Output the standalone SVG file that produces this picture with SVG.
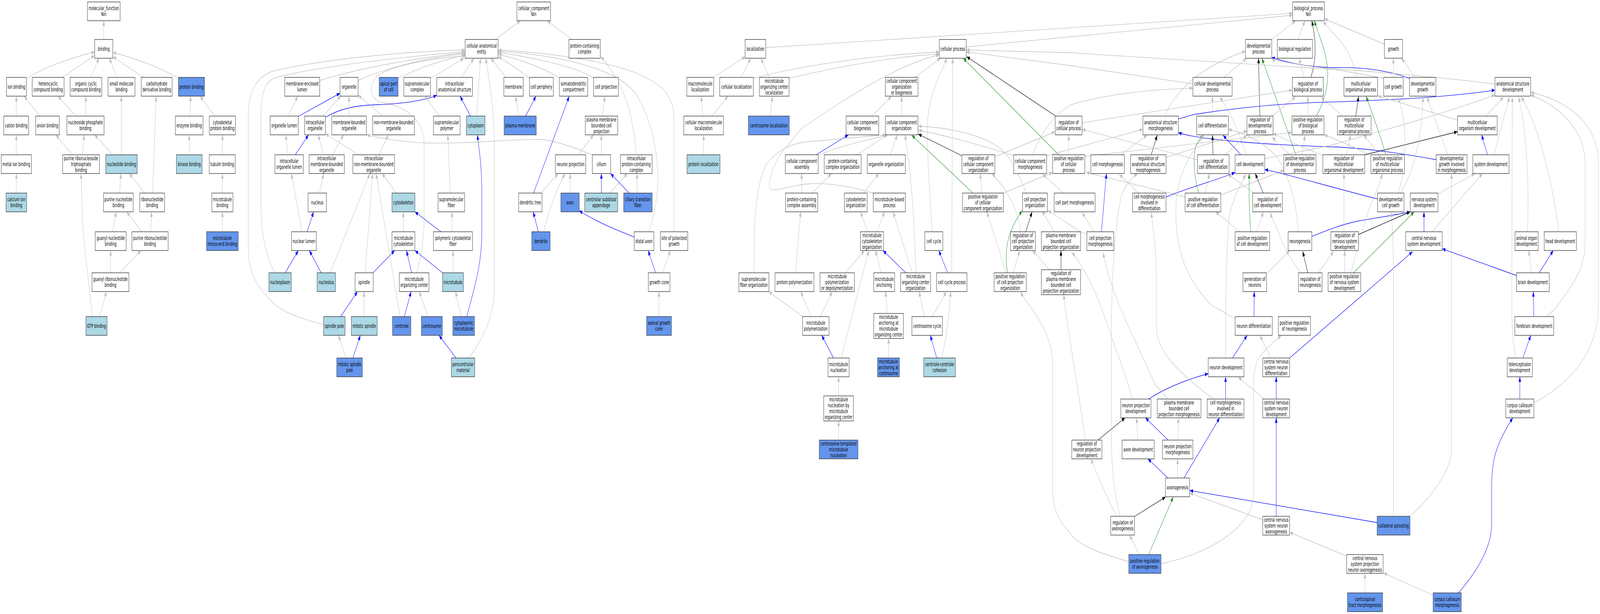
<svg xmlns="http://www.w3.org/2000/svg" width="6367" height="1571" viewBox="0 0 6367 1571" preserveAspectRatio="none">
<defs>
<style>
svg{width:100vw;height:100vh}
.nd rect{stroke:#2a2a2a;stroke-width:1.3}
.w{fill:#ffffff}.lb{fill:#add8e6}.cb{fill:#6495ed}
text{font-family:"DejaVu Sans Condensed","DejaVu Sans",sans-serif;font-stretch:condensed;font-size:14px;text-anchor:middle;fill:#000}
#edges path{fill:none;stroke-width:1.3}
#edges .g{stroke:#c0c0c0;marker-end:url(#ag)}
#edges .b{stroke:#0000ff;marker-end:url(#ab)}
#edges .gr{stroke:#228b22;marker-end:url(#agr)}
#edges .k{stroke:#000000;marker-end:url(#ak)}
</style>
<marker id="ag" markerWidth="14" markerHeight="10" refX="13" refY="5" orient="auto" markerUnits="userSpaceOnUse"><path d="M0,0 L13,5 L0,10 z" fill="#c0c0c0"/></marker>
<marker id="ab" markerWidth="14" markerHeight="10" refX="13" refY="5" orient="auto" markerUnits="userSpaceOnUse"><path d="M0,0 L13,5 L0,10 z" fill="#0000ff"/></marker>
<marker id="agr" markerWidth="14" markerHeight="10" refX="13" refY="5" orient="auto" markerUnits="userSpaceOnUse"><path d="M0,0 L13,5 L0,10 z" fill="#228b22"/></marker>
<marker id="ak" markerWidth="14" markerHeight="10" refX="13" refY="5" orient="auto" markerUnits="userSpaceOnUse"><path d="M0,0 L13,5 L0,10 z" fill="#000000"/></marker>
</defs>
<rect width="6367" height="1571" fill="#ffffff"/>
<g id="edges">
<path class="g" d="M413,101 L413,53"/>
<path class="g" d="M104.5,201 C180,170 300,145 377,133"/>
<path class="g" d="M246,198.5 L377,142"/>
<path class="g" d="M360,198.5 L394,149"/>
<path class="g" d="M466,198.5 L435,149"/>
<path class="g" d="M572,198.5 L449,145"/>
<path class="g" d="M710,201.5 C650,175 540,150 449,134"/>
<path class="g" d="M65,297 L65,246"/>
<path class="g" d="M158,297 L96,246"/>
<path class="g" d="M303,297 L231,246"/>
<path class="g" d="M341,297 L341.6,246"/>
<path class="g" d="M65,396 L65,345"/>
<path class="g" d="M288,396 L222,345"/>
<path class="g" d="M328,396 L335,345"/>
<path class="g" d="M449,396 L376,345"/>
<path class="g" d="M483,396 L483,246"/>
<path class="g" d="M65,494 L65,444"/>
<path class="g" d="M476,494 L481,444"/>
<path class="g" d="M575,494 L515,444"/>
<path class="g" d="M607.5,494 C612,400 618,320 621.5,246"/>
<path class="g" d="M448,593 L463,542"/>
<path class="g" d="M565,593 L504,542"/>
<path class="g" d="M600,593 L603,542"/>
<path class="g" d="M440,698 L440,641"/>
<path class="g" d="M476,698 L561,641"/>
<path class="g" d="M396,810 L424,746"/>
<path class="g" d="M368,810 C360,760 335,640 328,560 C325,500 323,470 323,444"/>
<path class="g" d="M755.5,297 L759,246"/>
<path class="g" d="M854.5,297 L796,246"/>
<path class="g" d="M753,396 L753,345"/>
<path class="g" d="M885,396 L885,345"/>
<path class="g" d="M885,494 L885,444"/>
<path class="g" d="M885,593 L885,542"/>
<path class="g" d="M1970,101 L2071,53"/>
<path class="g" d="M2276,101 L2177,53"/>
<path class="g" d="M1272,206 C1450,170 1700,145 1851,135"/>
<path class="g" d="M1425,205.5 C1550,170 1720,145 1851,138"/>
<path class="g" d="M1584,200.5 C1680,170 1780,150 1851,141"/>
<path class="g" d="M1713.7,200.5 L1846,149"/>
<path class="g" d="M1836,198 L1886,149"/>
<path class="g" d="M1896.5,297 L1912,149"/>
<path class="g" d="M2013,198 L1953.7,149"/>
<path class="g" d="M2107,201.5 C2060,175 2020,160 1982.6,145"/>
<path class="g" d="M2226,199 C2150,170 2060,150 1982.6,139"/>
<path class="g" d="M2362,200.5 C2300,170 2100,145 1982.6,134"/>
<path class="g" d="M2582,593 C2600,560 2620,500 2618,450 C2615,380 2590,300 2530,240 C2450,170 2200,140 1982.6,131"/>
<path class="g" d="M2681.7,593 L2681.7,300 C2681.7,250 2640,220 2560,195 C2450,160 2200,135 1982.6,128"/>
<path class="g" d="M1658,698 C1680,650 1688,600 1688,550 L1688,370 C1688,300 1600,270 1520,262 C1470,255 1460,215 1510,190 C1600,160 1750,148 1851,143"/>
<path class="g" d="M1866,916 C1930,860 1967,800 1967,740 L1967,360 C1967,280 1945,200 1933,149"/>
<path class="g" d="M1094,698 C1060,660 1038,600 1038,520 L1038,300 C1038,230 1060,205 1100,198 C1300,165 1700,140 1851,132"/>
<path class="g" d="M1288,831 C1200,815 1120,800 1080,770 C1000,720 988,680 988,630 L988,290 C988,240 1020,190 1100,180 C1300,150 1650,130 1851,128"/>
<path class="g" d="M1286,297 L1355.4,246"/>
<path class="b" d="M1295,300 C1350,280 1400,270 1500,268 C1620,265 1700,255 1738,243.6"/>
<path class="b" d="M1186.7,298 L1353,238.6"/>
<path class="g" d="M1148,297 L1184.7,246"/>
<path class="g" d="M1389,297 L1389,246"/>
<path class="g" d="M1523.5,297 L1425,243.6"/>
<path class="g" d="M1748.6,297 L1691.5,246"/>
<path class="b" d="M1872,297 L1831,246"/>
<path class="g" d="M2063,297 L2052,246"/>
<path class="b" d="M2091.5,297 L2133,246"/>
<path class="g" d="M1145,396 L1137,345"/>
<path class="b" d="M1175,396 L1227.7,345"/>
<path class="g" d="M1287.5,396 L1266,345"/>
<path class="g" d="M1322.5,396 L1367.5,345"/>
<path class="g" d="M1427,396 L1295,342"/>
<path class="g" d="M1508,396 L1545.6,345"/>
<path class="g" d="M2357,397 C2300,380 2200,358 2154,357 C2000,356 1900,368 1705,366 C1600,364 1500,352 1458,345"/>
<path class="g" d="M1271,494 L1288,444"/>
<path class="g" d="M1577,494 L1520,444"/>
<path class="g" d="M1792,494 L1782,345"/>
<path class="b" d="M2123,494 L2265,246.6"/>
<path class="g" d="M2157,491 L2221,444"/>
<path class="b" d="M1222,593 L1248,542"/>
<path class="g" d="M1202,593 L1159,444"/>
<path class="g" d="M1605,593 L1605,542"/>
<path class="b" d="M1755,593 L1651,542"/>
<path class="g" d="M1800,593 L1798,542"/>
<path class="b" d="M2142,593 L2122,542"/>
<path class="g" d="M2164,593 C2180,540 2220,480 2248,444"/>
<path class="b" d="M1135,698 L1187,641"/>
<path class="b" d="M1278,698 L1231,641"/>
<path class="g" d="M1314,698 L1472,444"/>
<path class="g" d="M1453,698 L1483,444"/>
<path class="b" d="M1484.5,698 L1570.5,641"/>
<path class="b" d="M1638,698 L1617.6,641"/>
<path class="b" d="M1761,698 L1651,641"/>
<path class="g" d="M1803,698 L1803,641"/>
<path class="g" d="M1592,810 L1496.6,444"/>
<path class="b" d="M1609,810 L1636,746"/>
<path class="g" d="M1703.6,810 L1668,746"/>
<path class="g" d="M1836,810 L1812.5,746"/>
<path class="b" d="M1858,810 C1885,740 1917,680 1917,600 L1917,480 C1917,420 1905,380 1900,345"/>
<path class="b" d="M1355.4,810 L1422.6,746"/>
<path class="g" d="M1449,810 L1449,746"/>
<path class="g" d="M1377,916 L1346.7,858"/>
<path class="b" d="M1404,916 L1434,858"/>
<path class="b" d="M1814.5,916 L1747,858"/>
<path class="g" d="M2398,297 L2406.7,246"/>
<path class="g" d="M2300.5,396 L2362,345"/>
<path class="g" d="M2393,396 L2393,345"/>
<path class="g" d="M2532,396 C2520,300 2490,215 2390.6,145"/>
<path class="g" d="M2269,494 L2269,444"/>
<path class="b" d="M2393,494 L2393,444"/>
<path class="g" d="M2426,494 L2497,444"/>
<path class="b" d="M2503.5,494 L2429.6,444"/>
<path class="g" d="M2536,494 L2534.5,444"/>
<path class="b" d="M2524,606.5 C2460,590 2380,570 2304.6,539"/>
<path class="b" d="M2609,698 L2579,641"/>
<path class="g" d="M2636.6,698 L2668,641"/>
<path class="g" d="M2622,810 L2622,746"/>
<path class="g" d="M3046.6,122 L5144,34"/>
<path class="g" d="M3845,120 L5144,39"/>
<path class="g" d="M2839.6,198 L2965,145"/>
<path class="g" d="M2949,198 L2987.5,149"/>
<path class="g" d="M3061.4,198 L3028,149"/>
<path class="g" d="M2997.6,200.5 C3200,165 3500,140 3737.7,133"/>
<path class="g" d="M3140,200.5 C3300,175 3550,145 3737.7,138"/>
<path class="g" d="M2797,297 L2790,246"/>
<path class="g" d="M2833,297 L2897,246"/>
<path class="g" d="M3065,297 L3073.6,246"/>
<path class="g" d="M2800,396 L2800,345"/>
<path class="g" d="M3640,198 L3742,149"/>
<path class="g" d="M3710,593 C3700,500 3690,400 3690,330 C3690,250 3740,190 3769,149"/>
<path class="g" d="M3787,698 L3791,149"/>
<path class="k" d="M4201,297 L3846.6,145"/>
<path class="gr" d="M4213,396 L3833,149"/>
<path class="g" d="M3470,297 L3547.5,246.6"/>
<path class="g" d="M3588,297 L3588,246.6"/>
<path class="b" d="M3248,396 L3376,345"/>
<path class="g" d="M3255.7,398 C3350,370 3450,360 3530.6,345"/>
<path class="g" d="M3001,698 C3000,600 3000,480 3050,420 C3100,380 3150,368 3208,363 C3350,355 3450,350 3524,345"/>
<path class="g" d="M3475,494 C3400,480 3300,465 3208,471 C3140,476 3070,495 3062,480 C3055,460 3090,400 3130,375 C3160,355 3180,330 3208,321 C3350,260 3550,170 3737.7,140"/>
<path class="g" d="M3409.6,396 L3532,345"/>
<path class="g" d="M3542,396 L3571,345"/>
<path class="g" d="M3645,698 C3640,600 3630,450 3601,345"/>
<path class="k" d="M3828,398.5 L3654,343"/>
<path class="gr" d="M3872,494 L3628,346"/>
<path class="g" d="M4034,398.5 C3900,370 3750,345 3654.6,333"/>
<path class="g" d="M4085,494 C4050,440 4020,400 3980,380 C3900,340 3750,325 3654.6,323"/>
<path class="g" d="M3959.5,401 L4199,337"/>
<path class="g" d="M3907,494 L3900,444"/>
<path class="g" d="M3993,494 L4189,441"/>
<path class="g" d="M4004.5,698 L3927,542"/>
<path class="gr" d="M4009,698 C3995,640 4010,590 4068,539"/>
<path class="g" d="M4031,698 L4058,641"/>
<path class="k" d="M4082,593 L4107,542"/>
<path class="g" d="M4061.6,593 C4050,530 4000,480 3947,444"/>
<path class="g" d="M4196,593 L4146,539"/>
<path class="k" d="M4222,690 L4222,641"/>
<path class="g" d="M4176,690 L4109,641"/>
<path class="g" d="M3231.5,494 L3309,444"/>
<path class="g" d="M3190,494 L3190,444"/>
<path class="g" d="M3436.5,494 L3497,444"/>
<path class="g" d="M3453,593 L3424.4,542"/>
<path class="g" d="M3489,593 L3520.6,542"/>
<path class="g" d="M3630,698 L3554,542"/>
<path class="b" d="M3604.6,698 L3514,641"/>
<path class="g" d="M3507,698 L3483.6,641"/>
<path class="g" d="M3364.6,698 L3440,641"/>
<path class="g" d="M3165.6,698 L3186,542"/>
<path class="g" d="M3347,916 L3457,641"/>
<path class="g" d="M3265,810 L3312,746"/>
<path class="g" d="M3228,810 L3186,746"/>
<path class="g" d="M3194.6,810 L3059,746"/>
<path class="b" d="M3317,916 L3270,858"/>
<path class="g" d="M3337,1013 L3337,964"/>
<path class="g" d="M3337,1126 L3337,1077"/>
<path class="g" d="M3530.6,802 L3524,746"/>
<path class="g" d="M3536,916 L3536,866"/>
<path class="g" d="M3678.5,810 L3657,746"/>
<path class="g" d="M3710,810 L3766,746"/>
<path class="b" d="M3727.6,916 L3702,858"/>
<path class="g" d="M3747,916 C3765,870 3775,820 3783,746"/>
<path class="b" d="M3771,698 L3736,641"/>
<path class="g" d="M4492,1437 C4400,1420 4300,1400 4262,1367 C4210,1330 4189,1300 4189,1256 L4189,936 C4189,870 4140,820 4102,786 C4085,770 4070,760 4061.6,746"/>
<path class="g" d="M4319,1126 C4300,1040 4275,940 4262,886 C4250,840 4240,800 4233,753"/>
<path class="g" d="M5060.5,101 L5156,53"/>
<path class="g" d="M5166,101 L5193,53"/>
<path class="k" d="M5216.5,198 C5240,150 5237,100 5220,53"/>
<path class="gr" d="M5238,297 C5280,250 5290,200 5280,160 C5270,120 5245,85 5230,53"/>
<path class="g" d="M5509,113 L5270,48"/>
<path class="g" d="M5400,198 C5385,160 5365,130 5340,110 C5310,88 5285,70 5265,55"/>
<path class="g" d="M4870,198 L4961,149"/>
<path class="g" d="M4635,297 C4680,230 4780,170 4956,131"/>
<path class="k" d="M5013.5,297 L5008,149"/>
<path class="gr" d="M5157,396 L5021.6,149"/>
<path class="b" d="M5609,200.5 C5500,175 5400,172 5316,173 C5200,172 5120,160 5060.5,147"/>
<path class="g" d="M5949,215 C5700,195 5400,180 5316,177 C5200,170 5120,160 5060.5,152"/>
<path class="g" d="M5506,200 L5316,178 L4262,135 L3845,128"/>
<path class="g" d="M4747,214.5 L4262,168 L3845,133"/>
<path class="g" d="M5189.6,198 L5169.5,149"/>
<path class="g" d="M4825,297 L4825,246.6"/>
<path class="g" d="M4961,396 C4930,340 4900,290 4853.5,248"/>
<path class="g" d="M5062,297 L5156,248"/>
<path class="g" d="M5204.4,297 L5204.4,246.6"/>
<path class="g" d="M4306,314 L5142.6,230.6"/>
<path class="g" d="M5343,297 L5256,248"/>
<path class="b" d="M4688.8,304 C4720,300 4730,295 4760,292 C5000,268 5200,262 5316,260.6 C5600,255 5800,245 5949,230.6"/>
<path class="b" d="M5715,408.5 C5600,395 5450,380 5316,376 C5000,370 4750,355 4688.8,339"/>
<path class="g" d="M4165,398.5 L4547.7,331"/>
<path class="k" d="M4581,396 L4605,346"/>
<path class="g" d="M4460,396 L4564.5,346"/>
<path class="g" d="M4639.8,403 L4962.4,335"/>
<path class="g" d="M4109,396 C4150,330 4200,290 4262,268 C4400,240 4600,228 4747,225.6"/>
<path class="k" d="M4827,396 L4825,346"/>
<path class="g" d="M4873.7,396 L4961,346"/>
<path class="g" d="M4765,409 L4306,331"/>
<path class="b" d="M4937.5,396 L4867,346"/>
<path class="g" d="M5033,406 C5150,390 5250,380 5316,368 C5500,335 5750,290 5949,243"/>
<path class="g" d="M5132,396 L5062,351"/>
<path class="g" d="M5181.6,396 L5193,346"/>
<path class="g" d="M4796,494 L4813,444"/>
<path class="gr" d="M4769.5,494 C4750,450 4747,400 4760,370 C4770,360 4780,352 4789.6,346"/>
<path class="g" d="M4857.5,499 L5109,436"/>
<path class="g" d="M4716,504 L4322.5,441"/>
<path class="k" d="M5027,494 L4995,444"/>
<path class="g" d="M4991,494 L4887,446"/>
<path class="g" d="M5000,593 L5028,542"/>
<path class="gr" d="M4978,593 C4970,540 4970,490 4971,444"/>
<path class="g" d="M4934,593 L4837,542"/>
<path class="g" d="M5166,593 C5160,530 5140,460 5080,400 C5020,360 4950,340 4888,331"/>
<path class="b" d="M5220,605 C5280,590 5320,578 5400,566 C5500,555 5570,548 5612,542"/>
<path class="g" d="M5045,698 L5132.5,641"/>
<path class="k" d="M5204,698 L5184,643"/>
<path class="g" d="M5177.5,698 C5130,660 5100,620 5085,590 C5070,570 5060,556 5055,544"/>
<path class="g" d="M5247,698 L5307,643"/>
<path class="b" d="M4383,593 L4403,444"/>
<path class="g" d="M4353,593 L4306,544"/>
<path class="g" d="M4325,600 C4280,590 4230,560 4169,539"/>
<path class="g" d="M4531,494 L4453.6,446"/>
<path class="b" d="M4640,504 C4750,475 4850,460 4915,441"/>
<path class="g" d="M4233,494 L4149,446"/>
<path class="g" d="M4253,396 L4253,346"/>
<path class="g" d="M4317,400 C4600,380 4900,355 5141,339"/>
<path class="b" d="M4990,810 L4991,746"/>
<path class="g" d="M4915,817 C4880,800 4840,790 4820,780 C4700,700 4679,620 4679,540 C4679,450 4740,390 4790,346"/>
<path class="b" d="M4904,916 L4963,858"/>
<path class="g" d="M4877,916 L4877,786 C4880,700 4885,600 4890,560 C4900,520 4930,480 4958,446"/>
<path class="g" d="M5057,916 L5013.5,858"/>
<path class="b" d="M5132,916 C5250,850 5450,740 5621,644"/>
<path class="b" d="M4571,1021 C4620,1000 4700,975 4808,956"/>
<path class="g" d="M4507,1021 C4470,940 4420,860 4383,786 C4340,720 4300,670 4265,646"/>
<path class="g" d="M4648.5,1021 C4620,1000 4600,990 4591,976 C4540,900 4490,840 4457,786 C4430,740 4400,690 4390,646"/>
<path class="b" d="M4877,1021 L4877,964"/>
<path class="g" d="M4830,1021 C4700,960 4601,900 4601,836 L4601,700 C4601,640 4590,590 4581,544"/>
<path class="g" d="M5031.6,1021 L4927.5,965"/>
<path class="b" d="M5078.5,1021 L5078.5,964"/>
<path class="k" d="M4369.5,1126 L4477,1069"/>
<path class="g" d="M4527.5,1126 L4523,1069"/>
<path class="b" d="M4648.5,1126 L4558,1069"/>
<path class="g" d="M4687.5,1126 L4689.5,1069"/>
<path class="b" d="M4648.5,1223.5 L4568,1174"/>
<path class="g" d="M4686,1223.5 L4686,1174"/>
<path class="b" d="M4711,1223.5 L4853.5,1069"/>
<path class="k" d="M4516,1321 L4638.4,1271.6"/>
<path class="g" d="M4443.5,1321 C4410,1280 4370,1220 4341,1174"/>
<path class="g" d="M4457,1321 C4430,1250 4423,1180 4423,1130 L4423,840 C4423,700 4440,560 4463,500 C4480,470 4505,455 4527.5,444"/>
<path class="g" d="M4534,1419 L4494,1369"/>
<path class="gr" d="M4571,1419 L4668.7,1271.6"/>
<path class="g" d="M4620,1442 C4800,1420 4988,1350 4988,1267 L4988,986 C4988,950 5000,920 5015,911 C5040,890 5070,875 5099,858"/>
<path class="g" d="M5025,1330 L4734.5,1261.6"/>
<path class="b" d="M5078.5,1321 L5078.5,1069"/>
<path class="b" d="M5480,1337 L4734.5,1255"/>
<path class="g" d="M5545,1321 L5545,700 C5545,620 5540,580 5537,542"/>
<path class="g" d="M5611,1321 C5700,1270 5776,1200 5776,1151 L5776,444"/>
<path class="g" d="M5359,1423 L5132,1362"/>
<path class="g" d="M5431.5,1517 L5431.5,1467"/>
<path class="g" d="M5703.4,1523 L5505.7,1466"/>
<path class="b" d="M5804,1517 C5880,1460 5936,1400 5936,1340 L5936,1240 C5936,1170 5960,1130 6020,1069"/>
<path class="g" d="M5545,198 L5545,149"/>
<path class="g" d="M5631,198 L5577,149"/>
<path class="k" d="M5395,297 L5406.5,246.6"/>
<path class="gr" d="M5514,396 C5490,340 5460,290 5436.6,246.6"/>
<path class="g" d="M5489,396 L5426.6,345"/>
<path class="g" d="M5455.4,398 C5400,380 5330,360 5269,345"/>
<path class="g" d="M5356,396 L5376,345"/>
<path class="k" d="M5431,396 L5800,337"/>
<path class="g" d="M5264,398 C5200,380 5120,360 5066,341"/>
<path class="g" d="M5800,307 L5483.6,245.6"/>
<path class="g" d="M5912.6,297 L5983,248"/>
<path class="g" d="M5762,396 L5678,248"/>
<path class="b" d="M5919,396 L5896,345"/>
<path class="g" d="M5946,396 C5970,330 5990,290 6006,248"/>
<path class="g" d="M5564,494 C5600,420 5600,320 5564,248"/>
<path class="g" d="M5574,494 C5640,420 5660,330 5662.5,248"/>
<path class="b" d="M5482,509 C5300,480 5150,450 5033,433.6"/>
<path class="g" d="M5722,496 L5869,444"/>
<path class="b" d="M5666.5,593 L5666.5,542"/>
<path class="g" d="M5699,593 L5899,444"/>
<path class="k" d="M5406,600 L5612,542"/>
<path class="g" d="M5348,593 L5348,444"/>
<path class="gr" d="M5386,698 L5627.7,542"/>
<path class="g" d="M5351,698 L5351,641"/>
<path class="g" d="M5375,698 C5410,620 5440,540 5470,500 C5485,480 5495,460 5500,444"/>
<path class="g" d="M6078,593 C6085,500 6080,350 6043,248"/>
<path class="g" d="M6204,593 C6180,480 6130,330 6053,248"/>
<path class="b" d="M6035,705 L5739,636.6"/>
<path class="b" d="M6125,698 L6181,641"/>
<path class="g" d="M6093.5,698 L6083.5,641"/>
<path class="b" d="M6103.6,810 L6101.6,746"/>
<path class="g" d="M6154,810 C6170,800 6190,790 6200,780 C6270,720 6308,680 6308,620 L6308,420 C6308,330 6200,270 6091,243"/>
<path class="b" d="M6060,916 L6091.5,858"/>
<path class="g" d="M6033,916 C6020,880 6016,840 6016,780 L6018,248"/>
<path class="b" d="M6048,1021 L6048,964"/>
<path class="g" d="M6104,1031 C6250,980 6361,900 6361,780 L6361,420 C6361,320 6250,260 6091,236"/>
</g>
<g id="n_mf" class="nd"><rect class="w" x="348" y="5" width="130" height="48"/><text x="413" y="26.5"><tspan x="413">molecular_function</tspan><tspan x="413" dy="15">Nin</tspan></text></g>
<g id="n_binding" class="nd"><rect class="w" x="377" y="101" width="72" height="48"/><text x="413" y="130">binding</text></g>
<g id="n_ionb" class="nd"><rect class="w" x="26" y="198" width="79" height="48"/><text x="65.5" y="227">ion binding</text></g>
<g id="n_hetb" class="nd"><rect class="w" x="128" y="198" width="127" height="48"/><text x="191.5" y="219.5"><tspan x="191.5">heterocyclic</tspan><tspan x="191.5" dy="15">compound binding</tspan></text></g>
<g id="n_orgcb" class="nd"><rect class="w" x="279" y="198" width="126" height="48"/><text x="342" y="219.5"><tspan x="342">organic cyclic</tspan><tspan x="342" dy="15">compound binding</tspan></text></g>
<g id="n_smb" class="nd"><rect class="w" x="430" y="198" width="107" height="48"/><text x="483.5" y="219.5"><tspan x="483.5">small molecule</tspan><tspan x="483.5" dy="15">binding</tspan></text></g>
<g id="n_carb" class="nd"><rect class="w" x="562" y="198" width="123" height="48"/><text x="623.5" y="219.5"><tspan x="623.5">carbohydrate</tspan><tspan x="623.5" dy="15">derivative binding</tspan></text></g>
<g id="n_protb" class="nd"><rect class="cb" x="710" y="198" width="104" height="48"/><text x="762" y="227">protein binding</text></g>
<g id="n_catb" class="nd"><rect class="w" x="15" y="297" width="99" height="48"/><text x="64.5" y="326">cation binding</text></g>
<g id="n_anb" class="nd"><rect class="w" x="142" y="297" width="94" height="48"/><text x="189" y="326">anion binding</text></g>
<g id="n_nspb" class="nd"><rect class="w" x="266" y="297" width="148" height="48"/><text x="340" y="318.5"><tspan x="340">nucleoside phosphate</tspan><tspan x="340" dy="15">binding</tspan></text></g>
<g id="n_enzb" class="nd"><rect class="w" x="698" y="297" width="110" height="48"/><text x="753" y="326">enzyme binding</text></g>
<g id="n_cytpb" class="nd"><rect class="w" x="833" y="297" width="104" height="48"/><text x="885" y="318.5"><tspan x="885">cytoskeletal</tspan><tspan x="885" dy="15">protein binding</tspan></text></g>
<g id="n_metb" class="nd"><rect class="w" x="5" y="396" width="120" height="48"/><text x="65" y="425">metal ion binding</text></g>
<g id="n_prtb" class="nd"><rect class="w" x="249" y="396" width="147" height="48"/><text x="322.5" y="410"><tspan x="322.5">purine ribonucleoside</tspan><tspan x="322.5" dy="15">triphosphate</tspan><tspan x="322.5" dy="15">binding</tspan></text></g>
<g id="n_nucb" class="nd"><rect class="lb" x="421" y="396" width="125" height="48"/><text x="483.5" y="425">nucleotide binding</text></g>
<g id="n_kinb" class="nd"><rect class="lb" x="702" y="396" width="102" height="48"/><text x="753" y="425">kinase binding</text></g>
<g id="n_tubb" class="nd"><rect class="w" x="833" y="396" width="103" height="48"/><text x="884.5" y="425">tubulin binding</text></g>
<g id="n_cab" class="nd"><rect class="lb" x="24" y="494" width="82" height="48"/><text x="65" y="515.5"><tspan x="65">calcium ion</tspan><tspan x="65" dy="15">binding</tspan></text></g>
<g id="n_pnb" class="nd"><rect class="w" x="412" y="494" width="118" height="48"/><text x="471" y="515.5"><tspan x="471">purine nucleotide</tspan><tspan x="471" dy="15">binding</tspan></text></g>
<g id="n_rnb" class="nd"><rect class="w" x="556" y="494" width="99" height="48"/><text x="605.5" y="515.5"><tspan x="605.5">ribonucleotide</tspan><tspan x="605.5" dy="15">binding</tspan></text></g>
<g id="n_mtb" class="nd"><rect class="w" x="843" y="494" width="84" height="48"/><text x="885" y="515.5"><tspan x="885">microtubule</tspan><tspan x="885" dy="15">binding</tspan></text></g>
<g id="n_gnb" class="nd"><rect class="w" x="379" y="593" width="123" height="48"/><text x="440.5" y="614.5"><tspan x="440.5">guanyl nucleotide</tspan><tspan x="440.5" dy="15">binding</tspan></text></g>
<g id="n_prnb" class="nd"><rect class="w" x="525" y="593" width="144" height="48"/><text x="597" y="614.5"><tspan x="597">purine ribonucleotide</tspan><tspan x="597" dy="15">binding</tspan></text></g>
<g id="n_mtmeb" class="nd"><rect class="cb" x="822" y="593" width="126" height="48"/><text x="885" y="614.5"><tspan x="885">microtubule</tspan><tspan x="885" dy="15">minus-end binding</tspan></text></g>
<g id="n_grnb" class="nd"><rect class="w" x="366" y="698" width="147" height="48"/><text x="439.5" y="719.5"><tspan x="439.5">guanyl ribonucleotide</tspan><tspan x="439.5" dy="15">binding</tspan></text></g>
<g id="n_gtpb" class="nd"><rect class="lb" x="342" y="810" width="84" height="48"/><text x="384" y="839">GTP binding</text></g>
<g id="n_cc" class="nd"><rect class="w" x="2057" y="5" width="134" height="48"/><text x="2124" y="26.5"><tspan x="2124">cellular_component</tspan><tspan x="2124" dy="15">Nin</tspan></text></g>
<g id="n_cae" class="nd"><rect class="w" x="1851" y="101" width="131" height="48"/><text x="1916.5" y="122.5"><tspan x="1916.5">cellular anatomical</tspan><tspan x="1916.5" dy="15">entity</tspan></text></g>
<g id="n_pcc" class="nd"><rect class="w" x="2264" y="101" width="125" height="48"/><text x="2326.5" y="122.5"><tspan x="2326.5">protein-containing</tspan><tspan x="2326.5" dy="15">complex</tspan></text></g>
<g id="n_mel" class="nd"><rect class="w" x="1133" y="198" width="139" height="48"/><text x="1202.5" y="219.5"><tspan x="1202.5">membrane-enclosed</tspan><tspan x="1202.5" dy="15">lumen</tspan></text></g>
<g id="n_org" class="nd"><rect class="w" x="1353" y="198" width="72" height="48"/><text x="1389" y="227">organelle</text></g>
<g id="n_apc" class="nd"><rect class="cb" x="1509" y="198" width="75" height="48"/><text x="1546.5" y="219.5"><tspan x="1546.5">apical part</tspan><tspan x="1546.5" dy="15">of cell</tspan></text></g>
<g id="n_smc" class="nd"><rect class="w" x="1607" y="198" width="106" height="48"/><text x="1660" y="219.5"><tspan x="1660">supramolecular</tspan><tspan x="1660" dy="15">complex</tspan></text></g>
<g id="n_ias" class="nd"><rect class="w" x="1738" y="198" width="142" height="48"/><text x="1809" y="219.5"><tspan x="1809">intracellular</tspan><tspan x="1809" dy="15">anatomical structure</tspan></text></g>
<g id="n_mem" class="nd"><rect class="w" x="2005" y="198" width="77" height="48"/><text x="2043.5" y="227">membrane</text></g>
<g id="n_cper" class="nd"><rect class="w" x="2107" y="198" width="95" height="48"/><text x="2154.5" y="227">cell periphery</text></g>
<g id="n_sdc" class="nd"><rect class="w" x="2226" y="198" width="113" height="48"/><text x="2282.5" y="219.5"><tspan x="2282.5">somatodendritic</tspan><tspan x="2282.5" dy="15">compartment</tspan></text></g>
<g id="n_cproj" class="nd"><rect class="w" x="2362" y="198" width="99" height="48"/><text x="2411.5" y="227">cell projection</text></g>
<g id="n_orgl" class="nd"><rect class="w" x="1075" y="297" width="112" height="48"/><text x="1131" y="326">organelle lumen</text></g>
<g id="n_io" class="nd"><rect class="w" x="1212" y="297" width="83" height="48"/><text x="1253.5" y="318.5"><tspan x="1253.5">intracellular</tspan><tspan x="1253.5" dy="15">organelle</tspan></text></g>
<g id="n_mbo" class="nd"><rect class="w" x="1320" y="297" width="138" height="48"/><text x="1389" y="318.5"><tspan x="1389">membrane-bounded</tspan><tspan x="1389" dy="15">organelle</tspan></text></g>
<g id="n_nmbo" class="nd"><rect class="w" x="1483" y="297" width="166" height="48"/><text x="1566" y="318.5"><tspan x="1566">non-membrane-bounded</tspan><tspan x="1566" dy="15">organelle</tspan></text></g>
<g id="n_smp" class="nd"><rect class="w" x="1725" y="297" width="106" height="48"/><text x="1778" y="318.5"><tspan x="1778">supramolecular</tspan><tspan x="1778" dy="15">polymer</tspan></text></g>
<g id="n_cyto" class="nd"><rect class="lb" x="1856" y="297" width="74" height="48"/><text x="1893" y="326">cytoplasm</text></g>
<g id="n_pm" class="nd"><rect class="cb" x="2006" y="297" width="128" height="48"/><text x="2070" y="326">plasma membrane</text></g>
<g id="n_pmbcp" class="nd"><rect class="w" x="2329" y="297" width="129" height="48"/><text x="2393.5" y="311"><tspan x="2393.5">plasma membrane</tspan><tspan x="2393.5" dy="15">bounded cell</tspan><tspan x="2393.5" dy="15">projection</tspan></text></g>
<g id="n_iol" class="nd"><rect class="w" x="1094" y="396" width="113" height="48"/><text x="1150.5" y="417.5"><tspan x="1150.5">intracellular</tspan><tspan x="1150.5" dy="15">organelle lumen</tspan></text></g>
<g id="n_imbo" class="nd"><rect class="w" x="1230" y="396" width="140" height="48"/><text x="1300" y="410"><tspan x="1300">intracellular</tspan><tspan x="1300" dy="15">membrane-bounded</tspan><tspan x="1300" dy="15">organelle</tspan></text></g>
<g id="n_inmbo" class="nd"><rect class="w" x="1404" y="396" width="166" height="48"/><text x="1487" y="410"><tspan x="1487">intracellular</tspan><tspan x="1487" dy="15">non-membrane-bounded</tspan><tspan x="1487" dy="15">organelle</tspan></text></g>
<g id="n_np" class="nd"><rect class="w" x="2210" y="396" width="121" height="48"/><text x="2270.5" y="425">neuron projection</text></g>
<g id="n_cil" class="nd"><rect class="w" x="2357" y="396" width="73" height="48"/><text x="2393.5" y="425">cilium</text></g>
<g id="n_ipcc" class="nd"><rect class="w" x="2469" y="396" width="126" height="48"/><text x="2532" y="410"><tspan x="2532">intracellular</tspan><tspan x="2532" dy="15">protein-containing</tspan><tspan x="2532" dy="15">complex</tspan></text></g>
<g id="n_nuc" class="nd"><rect class="w" x="1226" y="494" width="73" height="48"/><text x="1262.5" y="523">nucleus</text></g>
<g id="n_cysk" class="nd"><rect class="lb" x="1560" y="494" width="91" height="48"/><text x="1605.5" y="523">cytoskeleton</text></g>
<g id="n_smf" class="nd"><rect class="w" x="1743" y="494" width="106" height="48"/><text x="1796" y="515.5"><tspan x="1796">supramolecular</tspan><tspan x="1796" dy="15">fiber</tspan></text></g>
<g id="n_dtree" class="nd"><rect class="w" x="2064" y="494" width="93" height="48"/><text x="2110.5" y="523">dendritic tree</text></g>
<g id="n_axon" class="nd"><rect class="cb" x="2232" y="494" width="73" height="48"/><text x="2268.5" y="523">axon</text></g>
<g id="n_csda" class="nd"><rect class="lb" x="2327" y="494" width="131" height="48"/><text x="2392.5" y="515.5"><tspan x="2392.5">centriolar subdistal</tspan><tspan x="2392.5" dy="15">appendage</tspan></text></g>
<g id="n_ctf" class="nd"><rect class="cb" x="2482" y="494" width="113" height="48"/><text x="2538.5" y="515.5"><tspan x="2538.5">ciliary transition</tspan><tspan x="2538.5" dy="15">fiber</tspan></text></g>
<g id="n_nl" class="nd"><rect class="w" x="1160" y="593" width="99" height="48"/><text x="1209.5" y="622">nuclear lumen</text></g>
<g id="n_mtcs" class="nd"><rect class="w" x="1560" y="593" width="91" height="48"/><text x="1605.5" y="614.5"><tspan x="1605.5">microtubule</tspan><tspan x="1605.5" dy="15">cytoskeleton</tspan></text></g>
<g id="n_pcf" class="nd"><rect class="w" x="1725" y="593" width="155" height="48"/><text x="1802.5" y="614.5"><tspan x="1802.5">polymeric cytoskeletal</tspan><tspan x="1802.5" dy="15">fiber</tspan></text></g>
<g id="n_dend" class="nd"><rect class="cb" x="2116" y="593" width="73" height="48"/><text x="2152.5" y="622">dendrite</text></g>
<g id="n_dax" class="nd"><rect class="w" x="2524" y="593" width="78" height="48"/><text x="2563" y="622">distal axon</text></g>
<g id="n_spg" class="nd"><rect class="w" x="2628" y="593" width="109" height="48"/><text x="2682.5" y="614.5"><tspan x="2682.5">site of polarized</tspan><tspan x="2682.5" dy="15">growth</tspan></text></g>
<g id="n_nucp" class="nd"><rect class="lb" x="1070" y="698" width="89" height="48"/><text x="1114.5" y="727">nucleoplasm</text></g>
<g id="n_nucl" class="nd"><rect class="lb" x="1262" y="698" width="73" height="48"/><text x="1298.5" y="727">nucleolus</text></g>
<g id="n_spin" class="nd"><rect class="w" x="1413" y="698" width="72" height="48"/><text x="1449" y="727">spindle</text></g>
<g id="n_mtoc" class="nd"><rect class="w" x="1589" y="698" width="118" height="48"/><text x="1648" y="719.5"><tspan x="1648">microtubule</tspan><tspan x="1648" dy="15">organizing center</tspan></text></g>
<g id="n_mt" class="nd"><rect class="lb" x="1761" y="698" width="83" height="48"/><text x="1802.5" y="727">microtubule</text></g>
<g id="n_gc" class="nd"><rect class="w" x="2580" y="698" width="86" height="48"/><text x="2623" y="727">growth cone</text></g>
<g id="n_sp" class="nd"><rect class="lb" x="1288" y="810" width="85" height="48"/><text x="1330.5" y="839">spindle pole</text></g>
<g id="n_msp" class="nd"><rect class="lb" x="1398" y="810" width="103" height="48"/><text x="1449.5" y="839">mitotic spindle</text></g>
<g id="n_cent" class="nd"><rect class="cb" x="1562" y="810" width="73" height="48"/><text x="1598.5" y="839">centriole</text></g>
<g id="n_csome" class="nd"><rect class="cb" x="1677" y="810" width="83" height="48"/><text x="1718.5" y="839">centrosome</text></g>
<g id="n_cmt" class="nd"><rect class="cb" x="1802" y="810" width="86" height="48"/><text x="1845" y="831.5"><tspan x="1845">cytoplasmic</tspan><tspan x="1845" dy="15">microtubule</tspan></text></g>
<g id="n_agc" class="nd"><rect class="cb" x="2573" y="810" width="99" height="48"/><text x="2622.5" y="831.5"><tspan x="2622.5">axonal growth</tspan><tspan x="2622.5" dy="15">cone</tspan></text></g>
<g id="n_mspp" class="nd"><rect class="cb" x="1340" y="916" width="102" height="48"/><text x="1391" y="937.5"><tspan x="1391">mitotic spindle</tspan><tspan x="1391" dy="15">pole</tspan></text></g>
<g id="n_pcm" class="nd"><rect class="lb" x="1796" y="916" width="93" height="48"/><text x="1842.5" y="937.5"><tspan x="1842.5">pericentriolar</tspan><tspan x="1842.5" dy="15">material</tspan></text></g>
<g id="n_bp" class="nd"><rect class="w" x="5144" y="5" width="126" height="48"/><text x="5207" y="26.5"><tspan x="5207">biological_process</tspan><tspan x="5207" dy="15">Nin</tspan></text></g>
<g id="n_loc" class="nd"><rect class="w" x="2965" y="101" width="82" height="48"/><text x="3006" y="130">localization</text></g>
<g id="n_cp" class="nd"><rect class="w" x="3738" y="101" width="107" height="48"/><text x="3791.5" y="130">cellular process</text></g>
<g id="n_dp" class="nd"><rect class="w" x="4956" y="101" width="105" height="48"/><text x="5008.5" y="122.5"><tspan x="5008.5">developmental</tspan><tspan x="5008.5" dy="15">process</tspan></text></g>
<g id="n_breg" class="nd"><rect class="w" x="5083" y="101" width="140" height="48"/><text x="5153" y="130">biological regulation</text></g>
<g id="n_growth" class="nd"><rect class="w" x="5509" y="101" width="72" height="48"/><text x="5545" y="130">growth</text></g>
<g id="n_macl" class="nd"><rect class="w" x="2733" y="198" width="107" height="48"/><text x="2786.5" y="219.5"><tspan x="2786.5">macromolecule</tspan><tspan x="2786.5" dy="15">localization</tspan></text></g>
<g id="n_cloc" class="nd"><rect class="w" x="2864" y="198" width="134" height="48"/><text x="2931" y="227">cellular localization</text></g>
<g id="n_mtocl" class="nd"><rect class="w" x="3022" y="198" width="118" height="48"/><text x="3081" y="212"><tspan x="3081">microtubule</tspan><tspan x="3081" dy="15">organizing center</tspan><tspan x="3081" dy="15">localization</tspan></text></g>
<g id="n_ccob" class="nd"><rect class="w" x="3523" y="198" width="130" height="48"/><text x="3588" y="212"><tspan x="3588">cellular component</tspan><tspan x="3588" dy="15">organization</tspan><tspan x="3588" dy="15">or biogenesis</tspan></text></g>
<g id="n_cdp" class="nd"><rect class="w" x="4747" y="198" width="156" height="48"/><text x="4825" y="219.5"><tspan x="4825">cellular developmental</tspan><tspan x="4825" dy="15">process</tspan></text></g>
<g id="n_rbp" class="nd"><rect class="w" x="5143" y="198" width="123" height="48"/><text x="5204.5" y="219.5"><tspan x="5204.5">regulation of</tspan><tspan x="5204.5" dy="15">biological process</tspan></text></g>
<g id="n_mop" class="nd"><rect class="w" x="5348" y="198" width="134" height="48"/><text x="5415" y="219.5"><tspan x="5415">multicellular</tspan><tspan x="5415" dy="15">organismal process</tspan></text></g>
<g id="n_cgrowth" class="nd"><rect class="w" x="5506" y="198" width="78" height="48"/><text x="5545" y="227">cell growth</text></g>
<g id="n_dgrowth" class="nd"><rect class="w" x="5609" y="198" width="105" height="48"/><text x="5661.5" y="219.5"><tspan x="5661.5">developmental</tspan><tspan x="5661.5" dy="15">growth</tspan></text></g>
<g id="n_asd" class="nd"><rect class="w" x="5949" y="198" width="142" height="48"/><text x="6020" y="219.5"><tspan x="6020">anatomical structure</tspan><tspan x="6020" dy="15">development</tspan></text></g>
<g id="n_cml" class="nd"><rect class="w" x="2721" y="297" width="158" height="48"/><text x="2800" y="318.5"><tspan x="2800">cellular macromolecule</tspan><tspan x="2800" dy="15">localization</tspan></text></g>
<g id="n_csl" class="nd"><rect class="cb" x="2978" y="297" width="163" height="48"/><text x="3059.5" y="326">centrosome localization</text></g>
<g id="n_ccb" class="nd"><rect class="w" x="3367" y="297" width="130" height="48"/><text x="3432" y="318.5"><tspan x="3432">cellular component</tspan><tspan x="3432" dy="15">biogenesis</tspan></text></g>
<g id="n_cco" class="nd"><rect class="w" x="3523" y="297" width="130" height="48"/><text x="3588" y="318.5"><tspan x="3588">cellular component</tspan><tspan x="3588" dy="15">organization</tspan></text></g>
<g id="n_rcp" class="nd"><rect class="w" x="4199" y="297" width="107" height="48"/><text x="4252.5" y="318.5"><tspan x="4252.5">regulation of</tspan><tspan x="4252.5" dy="15">cellular process</tspan></text></g>
<g id="n_asm" class="nd"><rect class="w" x="4548" y="297" width="141" height="48"/><text x="4618.5" y="318.5"><tspan x="4618.5">anatomical structure</tspan><tspan x="4618.5" dy="15">morphogenesis</tspan></text></g>
<g id="n_cd" class="nd"><rect class="w" x="4762" y="297" width="126" height="48"/><text x="4825" y="326">cell differentiation</text></g>
<g id="n_rdp" class="nd"><rect class="w" x="4962" y="297" width="104" height="48"/><text x="5014" y="311"><tspan x="5014">regulation of</tspan><tspan x="5014" dy="15">developmental</tspan><tspan x="5014" dy="15">process</tspan></text></g>
<g id="n_prbp" class="nd"><rect class="w" x="5141" y="297" width="128" height="48"/><text x="5205" y="311"><tspan x="5205">positive regulation</tspan><tspan x="5205" dy="15">of biological</tspan><tspan x="5205" dy="15">process</tspan></text></g>
<g id="n_rmop" class="nd"><rect class="w" x="5322" y="297" width="134" height="48"/><text x="5389" y="311"><tspan x="5389">regulation of</tspan><tspan x="5389" dy="15">multicellular</tspan><tspan x="5389" dy="15">organismal process</tspan></text></g>
<g id="n_mod" class="nd"><rect class="w" x="5800" y="297" width="158" height="48"/><text x="5879" y="318.5"><tspan x="5879">multicellular</tspan><tspan x="5879" dy="15">organism development</tspan></text></g>
<g id="n_pl" class="nd"><rect class="lb" x="2734" y="396" width="131" height="48"/><text x="2799.5" y="425">protein localization</text></g>
<g id="n_cca" class="nd"><rect class="w" x="3125" y="396" width="131" height="48"/><text x="3190.5" y="417.5"><tspan x="3190.5">cellular component</tspan><tspan x="3190.5" dy="15">assembly</tspan></text></g>
<g id="n_pcco" class="nd"><rect class="w" x="3280" y="396" width="147" height="48"/><text x="3353.5" y="417.5"><tspan x="3353.5">protein-containing</tspan><tspan x="3353.5" dy="15">complex organization</tspan></text></g>
<g id="n_oo" class="nd"><rect class="w" x="3451" y="396" width="152" height="48"/><text x="3527" y="425">organelle organization</text></g>
<g id="n_rcco" class="nd"><rect class="w" x="3828" y="396" width="131" height="48"/><text x="3893.5" y="410"><tspan x="3893.5">regulation of</tspan><tspan x="3893.5" dy="15">cellular component</tspan><tspan x="3893.5" dy="15">organization</tspan></text></g>
<g id="n_ccm" class="nd"><rect class="w" x="4034" y="396" width="131" height="48"/><text x="4099.5" y="417.5"><tspan x="4099.5">cellular component</tspan><tspan x="4099.5" dy="15">morphogenesis</tspan></text></g>
<g id="n_prcp" class="nd"><rect class="w" x="4189" y="396" width="128" height="48"/><text x="4253" y="410"><tspan x="4253">positive regulation</tspan><tspan x="4253" dy="15">of cellular</tspan><tspan x="4253" dy="15">process</tspan></text></g>
<g id="n_cm" class="nd"><rect class="w" x="4341" y="396" width="133" height="48"/><text x="4407.5" y="425">cell morphogenesis</text></g>
<g id="n_rasm" class="nd"><rect class="w" x="4499" y="396" width="141" height="48"/><text x="4569.5" y="410"><tspan x="4569.5">regulation of</tspan><tspan x="4569.5" dy="15">anatomical structure</tspan><tspan x="4569.5" dy="15">morphogenesis</tspan></text></g>
<g id="n_rcd" class="nd"><rect class="w" x="4765" y="396" width="126" height="48"/><text x="4828" y="417.5"><tspan x="4828">regulation of</tspan><tspan x="4828" dy="15">cell differentiation</tspan></text></g>
<g id="n_cdev" class="nd"><rect class="w" x="4915" y="396" width="118" height="48"/><text x="4974" y="425">cell development</text></g>
<g id="n_prdp" class="nd"><rect class="w" x="5109" y="396" width="128" height="48"/><text x="5173" y="410"><tspan x="5173">positive regulation</tspan><tspan x="5173" dy="15">of developmental</tspan><tspan x="5173" dy="15">process</tspan></text></g>
<g id="n_rmod" class="nd"><rect class="w" x="5264" y="396" width="167" height="48"/><text x="5347.5" y="410"><tspan x="5347.5">regulation of</tspan><tspan x="5347.5" dy="15">multicellular</tspan><tspan x="5347.5" dy="15">organismal development</tspan></text></g>
<g id="n_prmop" class="nd"><rect class="w" x="5455" y="396" width="134" height="48"/><text x="5522" y="410"><tspan x="5522">positive regulation</tspan><tspan x="5522" dy="15">of multicellular</tspan><tspan x="5522" dy="15">organismal process</tspan></text></g>
<g id="n_dgim" class="nd"><rect class="w" x="5715" y="396" width="123" height="48"/><text x="5776.5" y="410"><tspan x="5776.5">developmental</tspan><tspan x="5776.5" dy="15">growth involved</tspan><tspan x="5776.5" dy="15">in morphogenesis</tspan></text></g>
<g id="n_sysd" class="nd"><rect class="w" x="5861" y="396" width="144" height="48"/><text x="5933" y="425">system development</text></g>
<g id="n_pcca" class="nd"><rect class="w" x="3126" y="494" width="128" height="48"/><text x="3190" y="515.5"><tspan x="3190">protein-containing</tspan><tspan x="3190" dy="15">complex assembly</tspan></text></g>
<g id="n_cso" class="nd"><rect class="w" x="3360" y="494" width="91" height="48"/><text x="3405.5" y="515.5"><tspan x="3405.5">cytoskeleton</tspan><tspan x="3405.5" dy="15">organization</tspan></text></g>
<g id="n_mbp" class="nd"><rect class="w" x="3475" y="494" width="128" height="48"/><text x="3539" y="515.5"><tspan x="3539">microtubule-based</tspan><tspan x="3539" dy="15">process</tspan></text></g>
<g id="n_prcco" class="nd"><rect class="w" x="3830" y="494" width="163" height="48"/><text x="3911.5" y="508"><tspan x="3911.5">positive regulation</tspan><tspan x="3911.5" dy="15">of cellular</tspan><tspan x="3911.5" dy="15">component organization</tspan></text></g>
<g id="n_cpo" class="nd"><rect class="w" x="4069" y="494" width="99" height="48"/><text x="4118.5" y="515.5"><tspan x="4118.5">cell projection</tspan><tspan x="4118.5" dy="15">organization</tspan></text></g>
<g id="n_cpmp" class="nd"><rect class="w" x="4195" y="494" width="163" height="48"/><text x="4276.5" y="523">cell part morphogenesis</text></g>
<g id="n_cmid" class="nd"><rect class="w" x="4507" y="494" width="133" height="48"/><text x="4573.5" y="508"><tspan x="4573.5">cell morphogenesis</tspan><tspan x="4573.5" dy="15">involved in</tspan><tspan x="4573.5" dy="15">differentiation</tspan></text></g>
<g id="n_prcd" class="nd"><rect class="w" x="4716" y="494" width="142" height="48"/><text x="4787" y="515.5"><tspan x="4787">positive regulation</tspan><tspan x="4787" dy="15">of cell differentiation</tspan></text></g>
<g id="n_rcdev" class="nd"><rect class="w" x="4985" y="494" width="118" height="48"/><text x="5044" y="515.5"><tspan x="5044">regulation of</tspan><tspan x="5044" dy="15">cell development</tspan></text></g>
<g id="n_dcg" class="nd"><rect class="w" x="5482" y="494" width="105" height="48"/><text x="5534.5" y="515.5"><tspan x="5534.5">developmental</tspan><tspan x="5534.5" dy="15">cell growth</tspan></text></g>
<g id="n_nsd" class="nd"><rect class="w" x="5612" y="494" width="110" height="48"/><text x="5667" y="515.5"><tspan x="5667">nervous system</tspan><tspan x="5667" dy="15">development</tspan></text></g>
<g id="n_mco" class="nd"><rect class="w" x="3424" y="593" width="92" height="48"/><text x="3470" y="607"><tspan x="3470">microtubule</tspan><tspan x="3470" dy="15">cytoskeleton</tspan><tspan x="3470" dy="15">organization</tspan></text></g>
<g id="n_ccyc" class="nd"><rect class="w" x="3680" y="593" width="72" height="48"/><text x="3716" y="622">cell cycle</text></g>
<g id="n_rcpo" class="nd"><rect class="w" x="4021" y="593" width="99" height="48"/><text x="4070.5" y="607"><tspan x="4070.5">regulation of</tspan><tspan x="4070.5" dy="15">cell projection</tspan><tspan x="4070.5" dy="15">organization</tspan></text></g>
<g id="n_pmbcpo" class="nd"><rect class="w" x="4144" y="593" width="156" height="48"/><text x="4222" y="607"><tspan x="4222">plasma membrane</tspan><tspan x="4222" dy="15">bounded cell</tspan><tspan x="4222" dy="15">projection organization</tspan></text></g>
<g id="n_cpmorph" class="nd"><rect class="w" x="4325" y="593" width="107" height="48"/><text x="4378.5" y="614.5"><tspan x="4378.5">cell projection</tspan><tspan x="4378.5" dy="15">morphogenesis</tspan></text></g>
<g id="n_prcdev" class="nd"><rect class="w" x="4915" y="593" width="137" height="48"/><text x="4983.5" y="614.5"><tspan x="4983.5">positive regulation</tspan><tspan x="4983.5" dy="15">of cell development</tspan></text></g>
<g id="n_neurog" class="nd"><rect class="w" x="5126" y="593" width="94" height="48"/><text x="5173" y="622">neurogenesis</text></g>
<g id="n_rnsd" class="nd"><rect class="w" x="5296" y="593" width="110" height="48"/><text x="5351" y="607"><tspan x="5351">regulation of</tspan><tspan x="5351" dy="15">nervous system</tspan><tspan x="5351" dy="15">development</tspan></text></g>
<g id="n_cnsd" class="nd"><rect class="w" x="5594" y="593" width="145" height="48"/><text x="5666.5" y="614.5"><tspan x="5666.5">central nervous</tspan><tspan x="5666.5" dy="15">system development</tspan></text></g>
<g id="n_aod" class="nd"><rect class="w" x="6029" y="593" width="92" height="48"/><text x="6075" y="614.5"><tspan x="6075">animal organ</tspan><tspan x="6075" dy="15">development</tspan></text></g>
<g id="n_headd" class="nd"><rect class="w" x="6145" y="593" width="128" height="48"/><text x="6209" y="622">head development</text></g>
<g id="n_sfo" class="nd"><rect class="w" x="2940" y="698" width="120" height="48"/><text x="3000" y="719.5"><tspan x="3000">supramolecular</tspan><tspan x="3000" dy="15">fiber organization</tspan></text></g>
<g id="n_ppol" class="nd"><rect class="w" x="3084" y="698" width="155" height="48"/><text x="3161.5" y="727">protein polymerization</text></g>
<g id="n_mtpd" class="nd"><rect class="w" x="3263" y="698" width="137" height="48"/><text x="3331.5" y="712"><tspan x="3331.5">microtubule</tspan><tspan x="3331.5" dy="15">polymerization</tspan><tspan x="3331.5" dy="15">or depolymerization</tspan></text></g>
<g id="n_mta" class="nd"><rect class="w" x="3477" y="698" width="83" height="48"/><text x="3518.5" y="719.5"><tspan x="3518.5">microtubule</tspan><tspan x="3518.5" dy="15">anchoring</tspan></text></g>
<g id="n_mtoco" class="nd"><rect class="w" x="3584" y="698" width="119" height="48"/><text x="3643.5" y="712"><tspan x="3643.5">microtubule</tspan><tspan x="3643.5" dy="15">organizing center</tspan><tspan x="3643.5" dy="15">organization</tspan></text></g>
<g id="n_ccp" class="nd"><rect class="w" x="3727" y="698" width="121" height="48"/><text x="3787.5" y="727">cell cycle process</text></g>
<g id="n_prcpo" class="nd"><rect class="w" x="3956" y="698" width="128" height="48"/><text x="4020" y="712"><tspan x="4020">positive regulation</tspan><tspan x="4020" dy="15">of cell projection</tspan><tspan x="4020" dy="15">organization</tspan></text></g>
<g id="n_rpmbcpo" class="nd"><rect class="w" x="4144" y="690" width="156" height="64"/><text x="4222" y="704.5"><tspan x="4222">regulation of</tspan><tspan x="4222" dy="15">plasma membrane</tspan><tspan x="4222" dy="15">bounded cell</tspan><tspan x="4222" dy="15">projection organization</tspan></text></g>
<g id="n_gon" class="nd"><rect class="w" x="4946" y="698" width="94" height="48"/><text x="4993" y="719.5"><tspan x="4993">generation of</tspan><tspan x="4993" dy="15">neurons</tspan></text></g>
<g id="n_rn" class="nd"><rect class="w" x="5167" y="698" width="94" height="48"/><text x="5214" y="719.5"><tspan x="5214">regulation of</tspan><tspan x="5214" dy="15">neurogenesis</tspan></text></g>
<g id="n_prnsd" class="nd"><rect class="w" x="5285" y="698" width="130" height="48"/><text x="5350" y="712"><tspan x="5350">positive regulation</tspan><tspan x="5350" dy="15">of nervous system</tspan><tspan x="5350" dy="15">development</tspan></text></g>
<g id="n_braind" class="nd"><rect class="w" x="6035" y="698" width="130" height="48"/><text x="6100" y="727">brain development</text></g>
<g id="n_mtpol" class="nd"><rect class="w" x="3194" y="810" width="105" height="48"/><text x="3246.5" y="831.5"><tspan x="3246.5">microtubule</tspan><tspan x="3246.5" dy="15">polymerization</tspan></text></g>
<g id="n_mtamtoc" class="nd"><rect class="w" x="3477" y="802" width="118" height="64"/><text x="3536" y="816.5"><tspan x="3536">microtubule</tspan><tspan x="3536" dy="15">anchoring at</tspan><tspan x="3536" dy="15">microtubule</tspan><tspan x="3536" dy="15">organizing center</tspan></text></g>
<g id="n_csc" class="nd"><rect class="w" x="3629" y="810" width="121" height="48"/><text x="3689.5" y="839">centrosome cycle</text></g>
<g id="n_nd" class="nd"><rect class="w" x="4915" y="810" width="148" height="48"/><text x="4989" y="839">neuron differentiation</text></g>
<g id="n_prn" class="nd"><rect class="w" x="5087" y="810" width="128" height="48"/><text x="5151" y="831.5"><tspan x="5151">positive regulation</tspan><tspan x="5151" dy="15">of neurogenesis</tspan></text></g>
<g id="n_fbd" class="nd"><rect class="w" x="6028" y="810" width="155" height="48"/><text x="6105.5" y="839">forebrain development</text></g>
<g id="n_mtn" class="nd"><rect class="w" x="3295" y="916" width="84" height="48"/><text x="3337" y="937.5"><tspan x="3337">microtubule</tspan><tspan x="3337" dy="15">nucleation</tspan></text></g>
<g id="n_mtac" class="nd"><rect class="cb" x="3492" y="916" width="87" height="48"/><text x="3535.5" y="930"><tspan x="3535.5">microtubule</tspan><tspan x="3535.5" dy="15">anchoring at</tspan><tspan x="3535.5" dy="15">centrosome</tspan></text></g>
<g id="n_ccc" class="nd"><rect class="lb" x="3676" y="916" width="126" height="48"/><text x="3739" y="937.5"><tspan x="3739">centriole-centriole</tspan><tspan x="3739" dy="15">cohesion</tspan></text></g>
<g id="n_ndev" class="nd"><rect class="w" x="4808" y="916" width="142" height="48"/><text x="4879" y="945">neuron development</text></g>
<g id="n_cnsnd" class="nd"><rect class="w" x="5025" y="916" width="107" height="48"/><text x="5078.5" y="930"><tspan x="5078.5">central nervous</tspan><tspan x="5078.5" dy="15">system neuron</tspan><tspan x="5078.5" dy="15">differentiation</tspan></text></g>
<g id="n_teld" class="nd"><rect class="w" x="5998" y="916" width="100" height="48"/><text x="6048" y="937.5"><tspan x="6048">telencephalon</tspan><tspan x="6048" dy="15">development</tspan></text></g>
<g id="n_mtnmtoc" class="nd"><rect class="w" x="3278" y="1013" width="118" height="64"/><text x="3337" y="1027.5"><tspan x="3337">microtubule</tspan><tspan x="3337" dy="15">nucleation by</tspan><tspan x="3337" dy="15">microtubule</tspan><tspan x="3337" dy="15">organizing center</tspan></text></g>
<g id="n_npd" class="nd"><rect class="w" x="4460" y="1021" width="120" height="48"/><text x="4520" y="1042.5"><tspan x="4520">neuron projection</tspan><tspan x="4520" dy="15">development</tspan></text></g>
<g id="n_pmbcpm" class="nd"><rect class="w" x="4605" y="1021" width="174" height="48"/><text x="4692" y="1035"><tspan x="4692">plasma membrane</tspan><tspan x="4692" dy="15">bounded cell</tspan><tspan x="4692" dy="15">projection morphogenesis</tspan></text></g>
<g id="n_cmind" class="nd"><rect class="w" x="4804" y="1021" width="146" height="48"/><text x="4877" y="1035"><tspan x="4877">cell morphogenesis</tspan><tspan x="4877" dy="15">involved in</tspan><tspan x="4877" dy="15">neuron differentiation</tspan></text></g>
<g id="n_cnsndev" class="nd"><rect class="w" x="5025" y="1021" width="107" height="48"/><text x="5078.5" y="1035"><tspan x="5078.5">central nervous</tspan><tspan x="5078.5" dy="15">system neuron</tspan><tspan x="5078.5" dy="15">development</tspan></text></g>
<g id="n_ccd" class="nd"><rect class="w" x="5992" y="1021" width="112" height="48"/><text x="6048" y="1042.5"><tspan x="6048">corpus callosum</tspan><tspan x="6048" dy="15">development</tspan></text></g>
<g id="n_ctmn" class="nd"><rect class="cb" x="3260" y="1126" width="154" height="48"/><text x="3337" y="1140"><tspan x="3337">centrosome-templated</tspan><tspan x="3337" dy="15">microtubule</tspan><tspan x="3337" dy="15">nucleation</tspan></text></g>
<g id="n_rnpd" class="nd"><rect class="w" x="4265" y="1126" width="120" height="48"/><text x="4325" y="1140"><tspan x="4325">regulation of</tspan><tspan x="4325" dy="15">neuron projection</tspan><tspan x="4325" dy="15">development</tspan></text></g>
<g id="n_axd" class="nd"><rect class="w" x="4465" y="1126" width="128" height="48"/><text x="4529" y="1155">axon development</text></g>
<g id="n_npm" class="nd"><rect class="w" x="4626" y="1126" width="121" height="48"/><text x="4686.5" y="1147.5"><tspan x="4686.5">neuron projection</tspan><tspan x="4686.5" dy="15">morphogenesis</tspan></text></g>
<g id="n_axg" class="nd"><rect class="w" x="4638" y="1223" width="96" height="48"/><text x="4686" y="1252">axonogenesis</text></g>
<g id="n_rax" class="nd"><rect class="w" x="4420" y="1321" width="95" height="48"/><text x="4467.5" y="1342.5"><tspan x="4467.5">regulation of</tspan><tspan x="4467.5" dy="15">axonogenesis</tspan></text></g>
<g id="n_cnsna" class="nd"><rect class="w" x="5025" y="1321" width="107" height="48"/><text x="5078.5" y="1335"><tspan x="5078.5">central nervous</tspan><tspan x="5078.5" dy="15">system neuron</tspan><tspan x="5078.5" dy="15">axonogenesis</tspan></text></g>
<g id="n_cs" class="nd"><rect class="cb" x="5480" y="1321" width="131" height="48"/><text x="5545.5" y="1350">collateral sprouting</text></g>
<g id="n_pra" class="nd"><rect class="cb" x="4492" y="1419" width="128" height="48"/><text x="4556" y="1440.5"><tspan x="4556">positive regulation</tspan><tspan x="4556" dy="15">of axonogenesis</tspan></text></g>
<g id="n_cnspna" class="nd"><rect class="w" x="5359" y="1419" width="145" height="48"/><text x="5431.5" y="1433"><tspan x="5431.5">central nervous</tspan><tspan x="5431.5" dy="15">system projection</tspan><tspan x="5431.5" dy="15">neuron axonogenesis</tspan></text></g>
<g id="n_ctm" class="nd"><rect class="cb" x="5362" y="1517" width="140" height="48"/><text x="5432" y="1538.5"><tspan x="5432">corticospinal</tspan><tspan x="5432" dy="15">tract morphogenesis</tspan></text></g>
<g id="n_ccm2" class="nd"><rect class="cb" x="5703" y="1517" width="112" height="48"/><text x="5759" y="1538.5"><tspan x="5759">corpus callosum</tspan><tspan x="5759" dy="15">morphogenesis</tspan></text></g>
</svg>
